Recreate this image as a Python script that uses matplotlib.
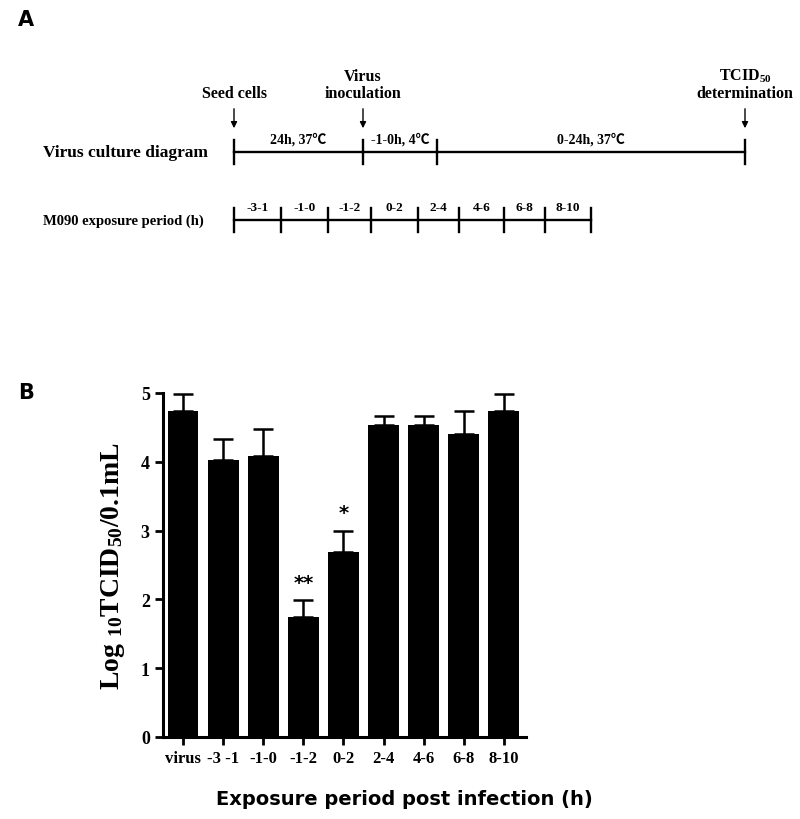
import matplotlib
matplotlib.use("Agg")
import matplotlib.pyplot as plt
import numpy as np

# bar chart data (Log10 TCID50 / 0.1 mL)
CATEGORIES = ["virus", "-3 -1", "-1-0", "-1-2", "0-2", "2-4", "4-6", "6-8", "8-10"]
MEANS = [4.74, 4.03, 4.08, 1.74, 2.69, 4.53, 4.53, 4.41, 4.74]
ERRORS = [0.25, 0.30, 0.39, 0.25, 0.31, 0.14, 0.14, 0.33, 0.25]
STARS = {3: "**", 4: "*"}

# timeline diagram (pixel layout of the schematic)
CULTURE_TICKS = [234, 363, 437, 745]
CULTURE_LABELS = ["24h, 37\u2103", "-1-0h, 4\u2103", "0-24h, 37\u2103"]
EXPOSURE_TICKS = [234, 281, 328, 371, 418, 459, 504, 545, 591]
EXPOSURE_LABELS = ["-3-1", "-1-0", "-1-2", "0-2", "2-4", "4-6", "6-8", "8-10"]
EVENTS = [(234, "Seed cells"), (363, "Virus\ninoculation"),
          (745, "TCID$_{50}$\ndetermination")]

plt.rcParams["mathtext.fontset"] = "custom"
plt.rcParams["mathtext.rm"] = "Liberation Serif:bold"
plt.rcParams["mathtext.it"] = "Liberation Serif:bold"
plt.rcParams["mathtext.bf"] = "Liberation Serif:bold"
SERIF = ["Liberation Serif", "Noto Sans CJK SC", "DejaVu Serif"]

fig = plt.figure(figsize=(8, 8.2), dpi=100)

# ---- panel A: schematic in pixel coordinates
ax0 = fig.add_axes([0, 0, 1, 1])
ax0.set_xlim(0, 800); ax0.set_ylim(820, 0); ax0.axis("off")
fig.text(18 / 800, 1 - 20 / 820, "A", fontsize=15, fontweight="bold",
         family="DejaVu Sans", va="center")
fig.text(18 / 800, 1 - 393 / 820, "B", fontsize=15, fontweight="bold",
         family="DejaVu Sans", va="center")

y_cul, y_exp = 153, 221
ax0.plot([CULTURE_TICKS[0], CULTURE_TICKS[-1]], [y_cul, y_cul], color="k", lw=1.7)
for x in CULTURE_TICKS:
    ax0.plot([x, x], [y_cul - 12, y_cul + 12], color="k", lw=1.7)
for a, b, lab in zip(CULTURE_TICKS[:-1], CULTURE_TICKS[1:], CULTURE_LABELS):
    ax0.text((a + b) / 2, y_cul - 13, lab, ha="center", va="center",
             fontsize=10, fontweight="bold", family=SERIF)
ax0.text(43, y_cul, "Virus culture diagram", ha="left", va="center",
         fontsize=12.5, fontweight="bold", family=SERIF)

ax0.plot([EXPOSURE_TICKS[0], EXPOSURE_TICKS[-1]], [y_exp, y_exp], color="k", lw=1.7)
for x in EXPOSURE_TICKS:
    ax0.plot([x, x], [y_exp - 12, y_exp + 12], color="k", lw=1.7)
for a, b, lab in zip(EXPOSURE_TICKS[:-1], EXPOSURE_TICKS[1:], EXPOSURE_LABELS):
    ax0.text((a + b) / 2, y_exp - 13, lab, ha="center", va="center",
             fontsize=9.5, fontweight="bold", family=SERIF)
ax0.text(43, y_exp, "M090 exposure period (h)", ha="left", va="center",
         fontsize=10.5, fontweight="bold", family=SERIF)

for x, lab in EVENTS:
    ax0.annotate("", xy=(x, 132), xytext=(x, 107),
                 arrowprops=dict(arrowstyle="-|>", color="k", lw=1.0,
                                 mutation_scale=9))
    ax0.text(x, 102, lab, ha="center", va="bottom", fontsize=11.5,
             fontweight="bold", family=SERIF, linespacing=1.1)

# ---- panel B: bar chart
ax = fig.add_axes([163 / 800, 82 / 820, 363 / 800, 344 / 820])
x = np.arange(len(CATEGORIES))
ax.bar(x, MEANS, width=0.77, color="k")
ax.errorbar(x, MEANS, yerr=[np.zeros(len(ERRORS)), ERRORS], fmt="none",
            ecolor="k", elinewidth=1.8, capsize=7.5, capthick=1.8, clip_on=False)
for i, s in STARS.items():
    ax.text(i, MEANS[i] + ERRORS[i] + 0.12, s, ha="center", va="bottom",
            fontsize=14, fontweight="bold", family="DejaVu Sans")

ax.set_xlim(-0.5, 8.55)
ax.set_ylim(0, 5)
ax.set_xticks(x)
ax.set_xticklabels(CATEGORIES, fontsize=12, fontweight="bold", family=SERIF)
ax.set_yticks(range(6))
ax.set_yticklabels([str(v) for v in range(6)], fontsize=13, fontweight="bold",
                   family=SERIF)
for side in ("top", "right"):
    ax.spines[side].set_visible(False)
for side in ("left", "bottom"):
    ax.spines[side].set_linewidth(2.2)
ax.tick_params(axis="both", direction="out", length=6, width=2)
ax.set_ylabel("Log $_{10}$TCID$_{50}$/0.1mL", fontsize=20, fontweight="bold",
              family=SERIF, labelpad=10)
fig.text(404 / 800, 1 - 800 / 820, "Exposure period post infection (h)",
         ha="center", va="center", fontsize=14, fontweight="bold",
         family="DejaVu Sans")

fig.savefig("out.png", dpi=100)
